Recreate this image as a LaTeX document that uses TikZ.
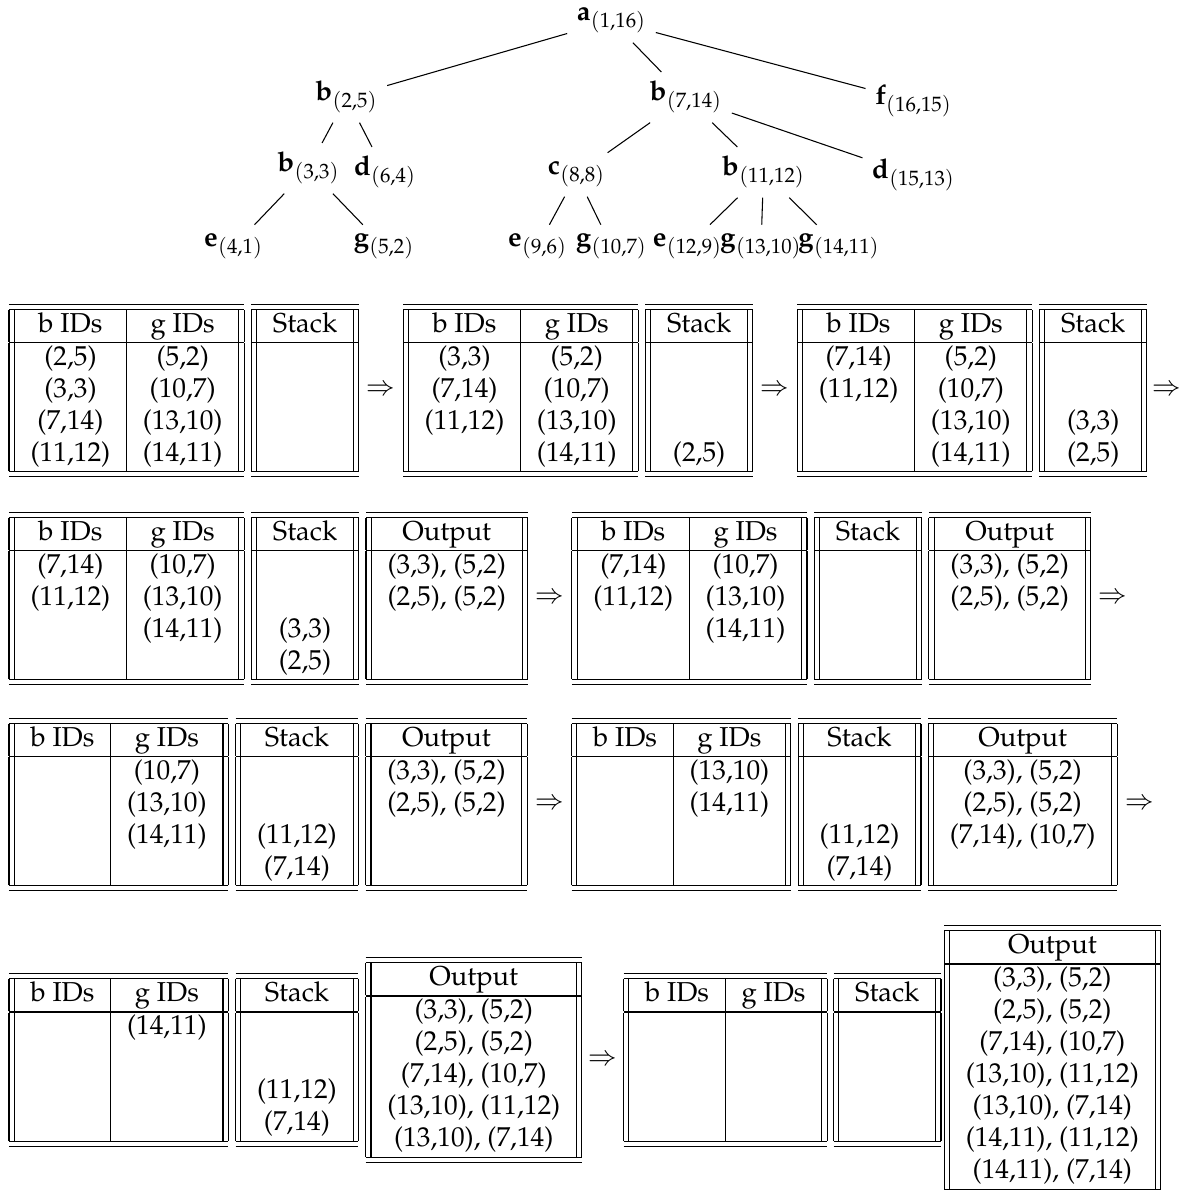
\documentclass[tikz,border=0pt]{standalone}
\usepackage[T1]{fontenc}
\usepackage{mathpazo}
\usetikzlibrary{positioning}
\setlength{\tabcolsep}{6.1pt}
\begin{document}
\begin{tikzpicture}[x=0.375pt,y=-0.375pt,
  every node/.style={font=\fontsize{10.25pt}{12pt}\selectfont},
  tn/.style={anchor=base, inner sep=3.33pt},
  te/.style={line width=0.4pt},
  tbl/.style={inner sep=0pt, outer sep=0pt, anchor=west},
  arr/.style={inner sep=0pt, outer sep=0pt, anchor=center}]
\useasboundingbox (0,0) rectangle (1179,1190);
\clip (0,0) rectangle (1179,1190);
% ---------------- tree ----------------
\node[tn] (a)     at (611.5,21)  {$\mathbf{a}_{(1,16)}$};
\node[tn] (b25)   at (346.5,101) {$\mathbf{b}_{(2,5)}$};
\node[tn] (b714)  at (686,101)   {$\mathbf{b}_{(7,14)}$};
\node[tn] (f)     at (913.5,105) {$\mathbf{f}_{(16,15)}$};
\node[tn] (b33)   at (308.5,172) {$\mathbf{b}_{(3,3)}$};
\node[tn] (d64)   at (385,176)   {$\mathbf{d}_{(6,4)}$};
\node[tn] (c88)   at (576.5,175) {$\mathbf{c}_{(8,8)}$};
\node[tn] (b1112) at (763.5,176) {$\mathbf{b}_{(11,12)}$};
\node[tn] (d1513) at (913.5,179) {$\mathbf{d}_{(15,13)}$};
\node[tn] (e41)   at (233.5,247) {$\mathbf{e}_{(4,1)}$};
\node[tn] (g52)   at (384,247)   {$\mathbf{g}_{(5,2)}$};
\node[tn] (e96)   at (537.5,247) {$\mathbf{e}_{(9,6)}$};
\node[tn] (g107)  at (611.5,247) {$\mathbf{g}_{(10,7)}$};
\node[tn] (e129)  at (687.5,247) {$\mathbf{e}_{(12,9)}$};
\node[tn] (g1310) at (761,247)   {$\mathbf{g}_{(13,10)}$};
\node[tn] (g1411) at (839,247)   {$\mathbf{g}_{(14,11)}$};
\draw[te] (a) -- (b25);
\draw[te] (a) -- (b714);
\draw[te] (a) -- (f);
\draw[te] (b25) -- (b33);
\draw[te] (b25) -- (d64);
\draw[te] (b33) -- (e41);
\draw[te] (b33) -- (g52);
\draw[te] (b714) -- (c88);
\draw[te] (b714) -- (b1112);
\draw[te] (b714) -- (d1513);
\draw[te] (c88) -- (e96);
\draw[te] (c88) -- (g107);
\draw[te] (b1112) -- (e129);
\draw[te] (b1112) -- (g1310);
\draw[te] (b1112) -- (g1411);
% ---------------- row 1 ----------------
\node[tbl] (t1a) at (9,390.5) {\begin{tabular}{||c|c||}\hline\hline
b IDs & g IDs\\\hline
(2,5) & (5,2)\\
(3,3) & (10,7)\\
(7,14) & (13,10)\\
(11,12) & (14,11)\\\hline\hline
\end{tabular}};
\node[tbl, right=2.7pt of t1a] (t1b) {\begin{tabular}{||c||}\hline\hline
Stack\\\hline
{}\\ {}\\ {}\\ {}\\\hline\hline
\end{tabular}};
\node[arr] (r1a) at ([xshift=8.3pt]t1b.east) {$\Rightarrow$};
\node[tbl] (t2a) at ([xshift=8.3pt]r1a.center) {\begin{tabular}{||c|c||}\hline\hline
b IDs & g IDs\\\hline
(3,3) & (5,2)\\
(7,14) & (10,7)\\
(11,12) & (13,10)\\
 & (14,11)\\\hline\hline
\end{tabular}};
\node[tbl, right=2.7pt of t2a] (t2b) {\begin{tabular}{||c||}\hline\hline
Stack\\\hline
{}\\ {}\\ {}\\ (2,5)\\\hline\hline
\end{tabular}};
\node[arr] (r1b) at ([xshift=8.3pt]t2b.east) {$\Rightarrow$};
\node[tbl] (t3a) at ([xshift=8.3pt]r1b.center) {\begin{tabular}{||c|c||}\hline\hline
b IDs & g IDs\\\hline
(7,14) & (5,2)\\
(11,12) & (10,7)\\
 & (13,10)\\
 & (14,11)\\\hline\hline
\end{tabular}};
\node[tbl, right=2.7pt of t3a] (t3b) {\begin{tabular}{||c||}\hline\hline
Stack\\\hline
{}\\ {}\\ (3,3)\\ (2,5)\\\hline\hline
\end{tabular}};
\node[arr] (r1c) at ([xshift=7.6pt]t3b.east) {$\Rightarrow$};
% ---------------- row 2 ----------------
\node[tbl] (t4a) at (9,598.5) {\begin{tabular}{||c|c||}\hline\hline
b IDs & g IDs\\\hline
(7,14) & (10,7)\\
(11,12) & (13,10)\\
 & (14,11)\\
 & \\\hline\hline
\end{tabular}};
\node[tbl, right=2.7pt of t4a] (t4b) {\begin{tabular}{||c||}\hline\hline
Stack\\\hline
{}\\ {}\\ (3,3)\\ (2,5)\\\hline\hline
\end{tabular}};
\node[tbl, right=2.7pt of t4b] (t4c) {\begin{tabular}{||c||}\hline\hline
Output\\\hline
(3,3), (5,2)\\ (2,5), (5,2)\\ {}\\ {}\\\hline\hline
\end{tabular}};
\node[arr] (r2a) at ([xshift=8.3pt]t4c.east) {$\Rightarrow$};
\node[tbl] (t5a) at ([xshift=8.3pt]r2a.center) {\begin{tabular}{||c|c||}\hline\hline
b IDs & g IDs\\\hline
(7,14) & (10,7)\\
(11,12) & (13,10)\\
 & (14,11)\\
 & \\\hline\hline
\end{tabular}};
\node[tbl, right=2.7pt of t5a] (t5b) {\begin{tabular}{||c||}\hline\hline
Stack\\\hline
{}\\ {}\\ {}\\ {}\\\hline\hline
\end{tabular}};
\node[tbl, right=2.7pt of t5b] (t5c) {\begin{tabular}{||c||}\hline\hline
Output\\\hline
(3,3), (5,2)\\ (2,5), (5,2)\\ {}\\ {}\\\hline\hline
\end{tabular}};
\node[arr] (r2b) at ([xshift=8.3pt]t5c.east) {$\Rightarrow$};
% ---------------- row 3 ----------------
\node[tbl] (t6a) at (9,804.5) {\begin{tabular}{||c|c||}\hline\hline
b IDs & g IDs\\\hline
 & (10,7)\\
 & (13,10)\\
 & (14,11)\\
 & \\\hline\hline
\end{tabular}};
\node[tbl, right=2.7pt of t6a] (t6b) {\begin{tabular}{||c||}\hline\hline
Stack\\\hline
{}\\ {}\\ (11,12)\\ (7,14)\\\hline\hline
\end{tabular}};
\node[tbl, right=2.7pt of t6b] (t6c) {\begin{tabular}{||c||}\hline\hline
Output\\\hline
(3,3), (5,2)\\ (2,5), (5,2)\\ {}\\ {}\\\hline\hline
\end{tabular}};
\node[arr] (r3a) at ([xshift=8.3pt]t6c.east) {$\Rightarrow$};
\node[tbl] (t7a) at ([xshift=8.3pt]r3a.center) {\begin{tabular}{||c|c||}\hline\hline
b IDs & g IDs\\\hline
 & (13,10)\\
 & (14,11)\\
 & \\
 & \\\hline\hline
\end{tabular}};
\node[tbl, right=2.7pt of t7a] (t7b) {\begin{tabular}{||c||}\hline\hline
Stack\\\hline
{}\\ {}\\ (11,12)\\ (7,14)\\\hline\hline
\end{tabular}};
\node[tbl, right=2.7pt of t7b] (t7c) {\begin{tabular}{||c||}\hline\hline
Output\\\hline
(3,3), (5,2)\\ (2,5), (5,2)\\ (7,14), (10,7)\\ {}\\\hline\hline
\end{tabular}};
\node[arr] (r3b) at ([xshift=8.3pt]t7c.east) {$\Rightarrow$};
% ---------------- row 4 ----------------
\node[tbl] (t8a) at (9,1060) {\begin{tabular}{||c|c||}\hline\hline
b IDs & g IDs\\\hline
 & (14,11)\\
 & \\
 & \\
 & \\\hline\hline
\end{tabular}};
\node[tbl, right=2.7pt of t8a] (t8b) {\begin{tabular}{||c||}\hline\hline
Stack\\\hline
{}\\ {}\\ (11,12)\\ (7,14)\\\hline\hline
\end{tabular}};
\node[tbl, right=2.7pt of t8b] (t8c) {\begin{tabular}{||c||}\hline\hline
Output\\\hline
(3,3), (5,2)\\ (2,5), (5,2)\\ (7,14), (10,7)\\ (13,10), (11,12)\\ (13,10), (7,14)\\\hline\hline
\end{tabular}};
\node[arr] (r4a) at ([xshift=7.8pt]t8c.east) {$\Rightarrow$};
\node[tbl] (t9a) at ([xshift=7.8pt]r4a.center) {\begin{tabular}{||c|c||}\hline\hline
b IDs & g IDs\\\hline
 & \\
 & \\
 & \\
 & \\\hline\hline
\end{tabular}};
\node[tbl, right=2.4pt of t9a] (t9b) {\begin{tabular}{||c||}\hline\hline
Stack\\\hline
{}\\ {}\\ {}\\ {}\\\hline\hline
\end{tabular}};
\node[tbl, right=1.2pt of t9b] (t9c) {\begin{tabular}{||c||}\hline\hline
Output\\\hline
(3,3), (5,2)\\ (2,5), (5,2)\\ (7,14), (10,7)\\ (13,10), (11,12)\\ (13,10), (7,14)\\ (14,11), (11,12)\\ (14,11), (7,14)\\\hline\hline
\end{tabular}};
\end{tikzpicture}
\end{document}
